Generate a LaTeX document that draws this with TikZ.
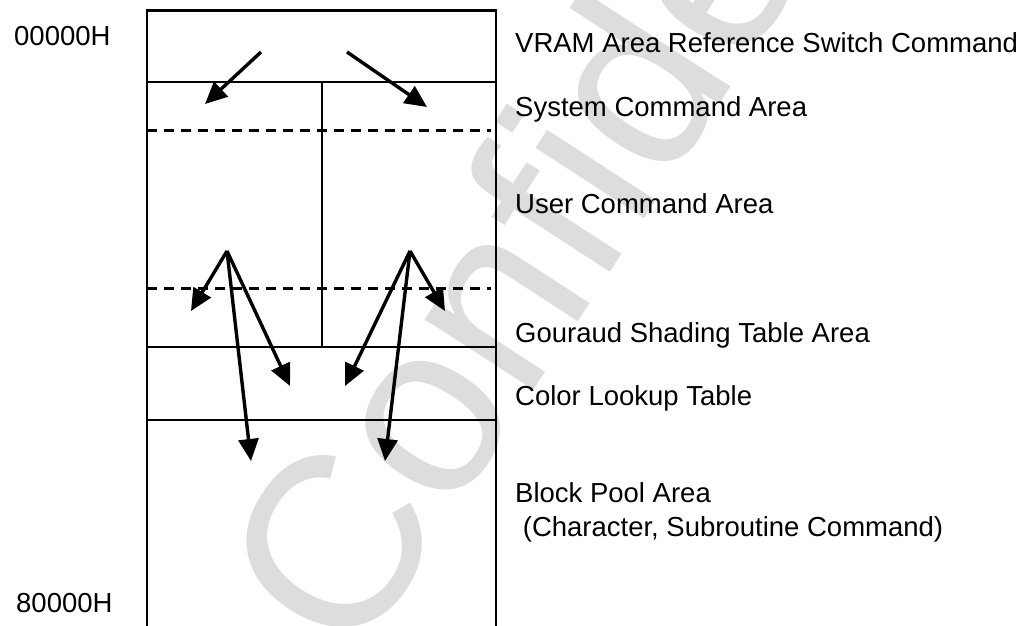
\documentclass[tikz,border=0pt]{standalone}
\usepackage{fontspec}
\setmainfont{Liberation Sans}
\usetikzlibrary{arrows.meta}

\definecolor{wmgray}{RGB}{221,221,221}

\tikzset{
  frameline/.style={line width=2.3pt, line cap=rect},
  splitline/.style={line width=3pt, dash pattern=on 10pt off 7pt},
  ptr/.style={line width=3.4pt, -{Triangle[length=22pt,width=20pt]}},
  lbl/.style={anchor=base west, inner sep=0pt, font=\fontsize{27.5}{32}\selectfont},
  addr/.style={anchor=base west, inner sep=0pt, font=\fontsize{27.5}{32}\selectfont},
  stamp/.style={anchor=base west, inner sep=0pt, text=wmgray, rotate=57,
                font=\fontsize{245}{245}\selectfont}
}

\begin{document}
\begin{tikzpicture}[x=1pt, y=-1pt]
  \useasboundingbox (0,0) rectangle (1026,625);

  % background stamp
  \begin{scope}
    \clip (0,0) rectangle (1026,625);
    \node[stamp] (wm) at (354,667) {Confidential};
  \end{scope}

  % memory map frame
  \draw[frameline] (147,625) -- (147,10.5) -- (496,10.5) -- (496,625);
  \draw[frameline] (147,82) -- (496,82);
  \draw[frameline] (147,347) -- (496,347);
  \draw[frameline] (147,420) -- (496,420);
  \draw[frameline] (322,82) -- (322,347);

  % dashed boundaries inside the command areas
  \draw[splitline] (147,130) -- (491,130);
  \draw[splitline] (147,288) -- (491,288);

  % reference points for the pointers
  \coordinate (vl) at (261,52);
  \coordinate (vr) at (347,52);
  \coordinate (vlt) at (205,104);
  \coordinate (vrt) at (427,107);
  \coordinate (L) at (227,251);
  \coordinate (R) at (410,251);
  \coordinate (L1) at (191,311);
  \coordinate (L2) at (290,386);
  \coordinate (L3) at (251,461);
  \coordinate (R1) at (445,311);
  \coordinate (R2) at (345,386);
  \coordinate (R3) at (385,461);

  % pointers
  \draw[ptr] (vl) -- (vlt);
  \draw[ptr] (vr) -- (vrt);
  \draw[ptr] (L) -- (L1);
  \draw[ptr] (L) -- (L2);
  \draw[ptr] (L) -- (L3);
  \draw[ptr] (R) -- (R1);
  \draw[ptr] (R) -- (R2);
  \draw[ptr] (R) -- (R3);

  % addresses
  \node[addr] (a0) at (14,45) {00000H};
  \node[addr] (a8) at (16,612) {80000H};

  % area names
  \node[lbl] (t1) at (515,52) {VRAM Area Reference Switch Command};
  \node[lbl] (t2) at (515,116) {System Command Area};
  \node[lbl] (t3) at (515,213) {User Command Area};
  \node[lbl] (t4) at (515,342) {Gouraud Shading Table Area};
  \node[lbl] (t5) at (515,405) {Color Lookup Table};
  \node[lbl] (t6) at (515,502) {Block Pool Area};
  \node[lbl] (t7) at (515,536) {\ (Character, Subroutine Command)};
\end{tikzpicture}
\end{document}
